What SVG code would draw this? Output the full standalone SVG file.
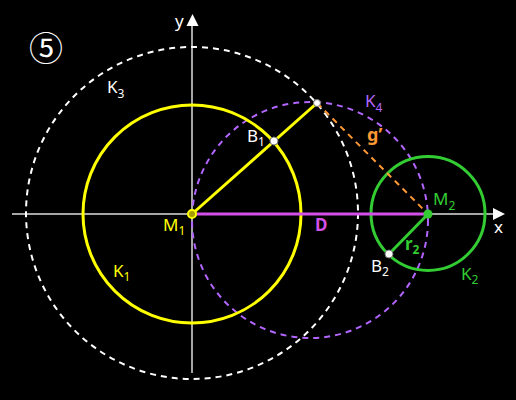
<svg xmlns="http://www.w3.org/2000/svg" width="516" height="400" viewBox="0 0 516 400">
<style>
text{font-family:"Noto Sans","Open Sans","DejaVu Sans",sans-serif;font-size:17px}
.sub{font-size:12px}
.axis{stroke:#a6a6a6;stroke-width:2;fill:none}
.dash{fill:none;stroke-width:2;stroke-dasharray:6 5}
.w{fill:#ffffff}
.y{fill:#ffff00}
.g{fill:#33cc33}
.p{fill:#b366ff}
.o{fill:#ff9933}
.m{fill:#d24fe8}
</style>
<rect x="0" y="0" width="516" height="400" fill="#000000"/>
<g id="axes">
<line class="axis" x1="12" y1="214" x2="494" y2="214"/>
<line class="axis" x1="192" y1="373" x2="192" y2="26"/>
<polygon points="505,214 493,208 493,220" fill="#ffffff"/>
<polygon points="192.5,14 186.5,26 198.5,26" fill="#ffffff"/>
<text class="w" x="175" y="27">y</text>
<text class="w" x="494" y="233">x</text>
</g>
<g id="K3">
<circle class="dash" cx="192" cy="213" r="166" stroke="#ffffff"/>
<text class="w" x="107" y="93">K<tspan class="sub" dy="5">3</tspan></text>
</g>
<g id="K4">
<circle class="dash" cx="310" cy="220" r="118" stroke="#b366ff"/>
<text class="p" x="365" y="107">K<tspan class="sub" dy="5">4</tspan></text>
</g>
<g id="K1">
<circle cx="192" cy="214" r="109" fill="none" stroke="#ffff00" stroke-width="3"/>
<text class="y" x="113" y="277">K<tspan class="sub" dy="4">1</tspan></text>
</g>
<g id="K2">
<circle cx="428" cy="213.5" r="57" fill="none" stroke="#33cc33" stroke-width="3"/>
<text class="g" x="461" y="280">K<tspan class="sub" dy="4">2</tspan></text>
</g>
<g id="connectors">
<line x1="192" y1="214" x2="428" y2="214" stroke="#d24fe8" stroke-width="3"/>
<line x1="192" y1="214" x2="317" y2="103" stroke="#ffff00" stroke-width="3"/>
<line x1="317" y1="103" x2="423" y2="209" stroke="#ff9933" stroke-width="2" stroke-dasharray="6 5"/>
<line x1="428" y1="214" x2="389" y2="254" stroke="#33cc33" stroke-width="3"/>
<text class="m" x="315" y="231" font-weight="bold">D</text>
<text class="o" x="367" y="141" font-weight="bold" style="font-size:18px">g’</text>
<text class="g" x="405" y="250" font-weight="bold">r<tspan class="sub" dy="4">2</tspan></text>
</g>
<g id="M1">
<circle cx="192" cy="214" r="4" fill="#a69b00" stroke="#ffff00" stroke-width="2"/>
<text class="y" x="163" y="231">M<tspan class="sub" dy="4">1</tspan></text>
</g>
<g id="M2">
<circle cx="428" cy="214" r="4.5" fill="#33cc33"/>
<text class="g" x="433" y="205">M<tspan class="sub" dy="5">2</tspan></text>
</g>
<g id="P">
<circle cx="317" cy="103" r="3.5" fill="#ffffff" stroke="#777777" stroke-width="1"/>
</g>
<g id="B1">
<circle cx="274" cy="141" r="4" fill="#ffffff" stroke="#777777" stroke-width="1"/>
<text class="w" x="247" y="142">B<tspan class="sub" dy="4">1</tspan></text>
</g>
<g id="B2">
<circle cx="389" cy="254" r="4" fill="#ffffff" stroke="#777777" stroke-width="1"/>
<text class="w" x="371" y="272">B<tspan class="sub" dy="4">2</tspan></text>
</g>
<g id="step">
<text class="w" x="46" y="61" text-anchor="middle" style="font-family:'Noto Sans CJK JP','DejaVu Sans',sans-serif;font-size:34px">⑤</text>
</g>
</svg>
